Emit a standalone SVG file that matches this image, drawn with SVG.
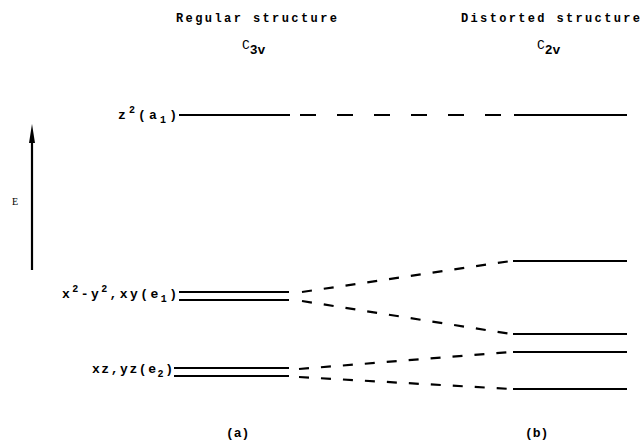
<svg xmlns="http://www.w3.org/2000/svg" width="641" height="442" viewBox="0 0 641 442">
<style>
.t{font-family:"Liberation Mono","DejaVu Sans Mono",monospace;font-weight:bold;font-size:12px;fill:#000}
.lb{font-family:"Liberation Mono","DejaVu Sans Mono",monospace;font-weight:bold;font-size:13px;fill:#000}
.sm{font-size:10px}
.lv{stroke:#000;stroke-width:2;fill:none}
.ds{stroke:#000;stroke-width:2.2;fill:none;stroke-dasharray:10 12}
</style>
<rect width="641" height="442" fill="#fff"/>
<g id="headings">
<text class="t" x="176" y="22" textLength="161" lengthAdjust="spacing">Regular structure</text>
<text class="t" x="461" y="22" textLength="179" lengthAdjust="spacing">Distorted structure</text>
<text class="t" x="242" y="49" style="font-weight:normal;font-size:13px">C<tspan dy="5" style="font-weight:bold">3v</tspan></text>
<text class="t" x="537" y="49" style="font-weight:normal;font-size:13px">C<tspan dy="5" style="font-weight:bold">2v</tspan></text>
<text class="t" x="226" y="437" style="font-size:13px">(a)</text>
<text class="t" x="525" y="437" style="font-size:13px">(b)</text>
</g>
<g id="axis">
<line x1="32" y1="270" x2="32" y2="140" stroke="#000" stroke-width="2.2"/>
<polygon points="32,124 29,143 35,143" fill="#000"/>
<text x="12" y="205" style="font-family:'Liberation Serif',serif;font-size:10px">E</text>
</g>
<g id="level-a1-left">
<text class="lb" x="118" y="119" textLength="59" lengthAdjust="spacing">z<tspan class="sm" dy="-6">2</tspan><tspan dy="6">(a</tspan><tspan class="sm" dy="4">1</tspan><tspan dy="-4">)</tspan></text>
<line class="lv" x1="179" y1="115" x2="290" y2="115"/>
</g>
<g id="level-e1-left">
<text class="lb" x="62" y="298" textLength="115" lengthAdjust="spacing">x<tspan class="sm" dy="-6">2</tspan><tspan dy="6">-y</tspan><tspan class="sm" dy="-6">2</tspan><tspan dy="6">,xy(e</tspan><tspan class="sm" dy="4">1</tspan><tspan dy="-4">)</tspan></text>
<line class="lv" x1="179" y1="292" x2="289" y2="292"/>
<line class="lv" x1="179" y1="300" x2="289" y2="300"/>
</g>
<g id="level-e2-left">
<text class="lb" x="92" y="373" textLength="81" lengthAdjust="spacing">xz,yz(e<tspan class="sm" dy="4">2</tspan><tspan dy="-4">)</tspan></text>
<line class="lv" x1="174" y1="368" x2="289" y2="368"/>
<line class="lv" x1="174" y1="376" x2="289" y2="376"/>
</g>
<g id="levels-right">
<line class="lv" x1="514" y1="115" x2="627" y2="115"/>
<line class="lv" x1="513" y1="261" x2="627" y2="261"/>
<line class="lv" x1="513" y1="334" x2="627" y2="334"/>
<line class="lv" x1="513" y1="352" x2="627" y2="352"/>
<line class="lv" x1="513" y1="389" x2="627" y2="389"/>
</g>
<g id="connectors">
<line class="ds" x1="300" y1="115" x2="512" y2="115" style="stroke-dasharray:16 21"/>
<line class="ds" x1="302" y1="292" x2="511" y2="261"/>
<line class="ds" x1="302" y1="301" x2="511" y2="334"/>
<line class="ds" x1="299" y1="369" x2="511" y2="352"/>
<line class="ds" x1="299" y1="377" x2="511" y2="389"/>
</g>
</svg>
